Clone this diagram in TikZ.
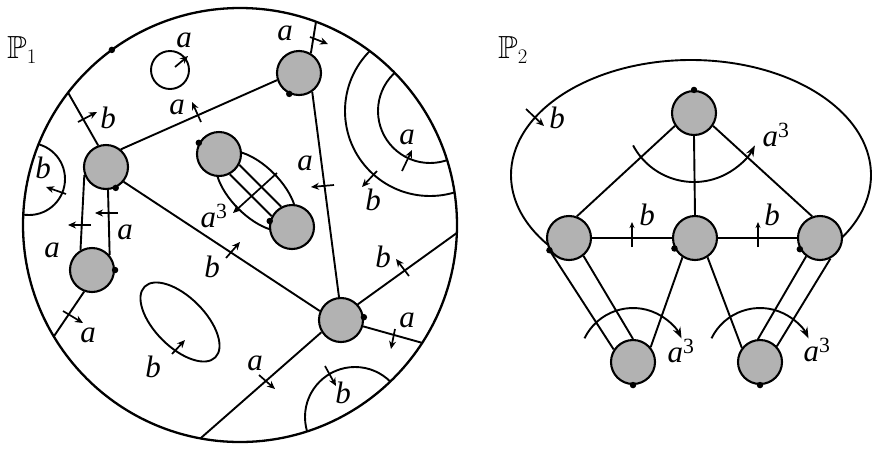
\documentclass[tikz,border=0pt]{standalone}
\usepackage{amssymb}
\usepackage{fontspec}
\setmainfont{Liberation Serif}
\usetikzlibrary{arrows.meta}
\pgfdeclarelayer{bg}
\pgfsetlayers{bg,main}
\begin{document}
\begin{tikzpicture}[x=1pt,y=1pt,yscale=-1,
  ln/.style={line width=1.9pt},
  vtx/.style={circle,draw,line width=2.1pt,fill=black!30,minimum size=44pt,inner sep=0pt},
  dotm/.style={circle,fill=black,inner sep=0pt,minimum size=6.5pt},
  tk/.style={line width=1.7pt,-{Stealth[length=8pt,width=7pt]}},
  tkup/.style={line width=1.2pt,-{Stealth[length=6pt,width=5pt]}},
  arr/.style={line width=1.9pt,-{Stealth[length=11pt,width=8pt]}},
  lab/.style={inner sep=0pt,font=\fontsize{31}{33}\selectfont\itshape},
  plab/.style={inner sep=0pt,font=\fontsize{32}{34}\selectfont},
]
\useasboundingbox (0,0) rectangle (878,448);

% ---------- left disk P1 ----------
\coordinate (O) at (240,225);
\draw[line width=2.3pt] (O) circle (217);
\coordinate (e1) at ([shift={(-69.5:217)}]O);
\coordinate (e2) at ([shift={(-142.4:217)}]O);
\coordinate (e3) at ([shift={(149.1:217)}]O);
\coordinate (e4) at ([shift={(100.5:217)}]O);
\coordinate (e5) at ([shift={(2.1:217)}]O);
\coordinate (e6) at ([shift={(32.9:217)}]O);
\node[dotm] (d0) at ([shift={(-126.2:217)}]O) {};

\node[vtx] (V1) at (299,73) {};
\node[vtx] (V2) at (106,167) {};
\node[vtx] (V3) at (92,270) {};
\node[vtx] (V4) at (219,154) {};
\node[vtx] (V5) at (292,227) {};
\node[vtx] (V6) at (341,320) {};

\node[dotm] (d1) at (V1.245) {};
\node[dotm] (d2) at (V2.295) {};
\node[dotm] (d3) at (V3.0) {};
\node[dotm] (d4) at (V4.151) {};
\node[dotm] (d5) at (V5.165) {};
\node[dotm] (d6) at (V6.7) {};

\begin{pgfonlayer}{bg}
  \draw[ln] (V1.59) -- (e1);
  \draw[ln] (V2.50) -- (V1.198);
  \draw[ln] (V2.110) -- (e2);
  \draw[ln] (V2.200) -- (V3.120);
  \draw[ln] (V2.275) -- (V3.40);
  \draw[ln] (V3.250) -- (e3);
  \draw[ln] (V1.305) -- (V6.95);
  \draw[ln] (V2.320) -- (V6.157);
  \draw[ln] (V6.212) -- (e4);
  \draw[ln] (V6.43) -- (e5);
  \draw[ln] (V6.344) -- (e6);
  \draw[ln] (V4.-28) -- (V5.118);
  \draw[ln] (V4.-62) -- (V5.152);
  \draw[ln,rotate around={45:(256,191)}] (256,191) ellipse [x radius=51, y radius=25];
  \begin{scope}
    \clip (O) circle (217);
    \draw[ln] (29,179) circle (36);
    \draw[ln] (430,111) circle (85);
    \draw[ln] (430,111) circle (52);
    \draw[ln] (355,417) circle (50);
  \end{scope}
\end{pgfonlayer}

\draw[ln] (170,70) circle (19);
\draw[ln,rotate around={45:(180,322)}] (180,322) ellipse [x radius=50, y radius=25];

% ticks
\draw[tk] (175,67) -- (188,56);
\draw[tk] (310,37) -- (328,44);
\draw[tk] (201,122) -- (192,102);
\draw[tk] (78,122) -- (97,112);
\draw[tk] (66,194) -- (46,187);
\draw[tk] (91,225) -- (68,225);
\draw[tk] (118,213) -- (95,213);
\draw[tk] (63,311) -- (83,323);
\draw[tk] (172,354) -- (185,340);
\draw[tk] (226,258) -- (240,242);
\draw[tk] (277,173) -- (233,213);
\draw[tk] (334,185) -- (311,187);
\draw[tk] (402,171) -- (412,150);
\draw[tk] (377,171) -- (362,187);
\draw[tk] (409,276) -- (396,259);
\draw[tk] (395,329) -- (391,349);
\draw[tk] (325,366) -- (336,386);
\draw[tk] (259,375) -- (275,389);

% labels
\node[plab] (P1) at (22,50) {$\mathbb{P}_1$};
\node[lab] (la1) at (184,40) {a};
\node[lab] (la2) at (285,33) {a};
\node[lab] (la3) at (177,107) {a};
\node[lab] (lb1) at (108,118) {b};
\node[lab] (lb2) at (43,168) {b};
\node[lab] (la4) at (52,250) {a};
\node[lab] (la5) at (125,232) {a};
\node[lab] (la6) at (88,335) {a};
\node[lab] (lb3) at (153,367) {b};
\node[lab] (la7) at (214,216) {a\textsuperscript{\upshape 3}};
\node[lab] (lb4) at (212,267) {b};
\node[lab] (la8) at (305,163) {a};
\node[lab] (la9) at (407,137) {a};
\node[lab] (lb5) at (373,200) {b};
\node[lab] (lb6) at (383,257) {b};
\node[lab] (la10) at (407,320) {a};
\node[lab] (lb7) at (343,393) {b};
\node[lab] (la11) at (255,363) {a};

% ---------- right figure P2 ----------
\node[vtx] (T) at (694,113) {};
\node[vtx] (W1) at (569,238) {};
\node[vtx] (W2) at (695,238) {};
\node[vtx] (W3) at (820,238) {};
\node[vtx] (B1) at (633,362) {};
\node[vtx] (B2) at (760,362) {};

\node[dotm] (dT) at (T.90) {};
\node[dotm] (dW1) at (W1.212) {};
\node[dotm] (dW2) at (W2.207) {};
\node[dotm] (dW3) at (W3.209) {};
\node[dotm] (dB1) at (B1.270) {};
\node[dotm] (dB2) at (B2.270) {};

\coordinate (Ec) at (691,175);
\begin{pgfonlayer}{bg}
  \draw[ln] ([shift={(143:180 and 115)}]Ec) arc[start angle=143,end angle=394,x radius=180,y radius=115];
  \draw[ln] (T.214) -- (W1.70);
  \draw[ln] (T.270) -- (W2.90);
  \draw[ln] (T.326) -- (W3.110);
  \draw[ln] (W1) -- (W2);
  \draw[ln] (W2) -- (W3);
  \draw[ln] (W1.216) -- (B1.147);
  \draw[ln] (W1.309) -- (B1.90);
  \draw[ln] (W2.237) -- (B1.40);
  \draw[ln] (W2.303) -- (B2.142);
  \draw[ln] (W3.233) -- (B2.95);
  \draw[ln] (W3.297) -- (B2.43);
\end{pgfonlayer}

\draw[arr] ([shift={(152:69)}]T.center) arc[start angle=152,end angle=28,radius=69];
\draw[arr] ([shift={(206:54)}]B1.center) arc[start angle=206,end angle=334,radius=54];
\draw[arr] ([shift={(206:54)}]B2.center) arc[start angle=206,end angle=334,radius=54];

\draw[tk] (526,109) -- (544,126);
\draw[tkup] (632,247) -- (632,222);
\draw[tkup] (758,247) -- (758,222);

\node[plab] (P2) at (513,50) {$\mathbb{P}_2$};
\node[lab] (rb1) at (557,118) {b};
\node[lab] (ra1) at (776,135) {a\textsuperscript{\upshape 3}};
\node[lab] (rb2) at (647,215) {b};
\node[lab] (rb3) at (772,215) {b};
\node[lab] (ra2) at (681,351) {a\textsuperscript{\upshape 3}};
\node[lab] (ra3) at (817,350) {a\textsuperscript{\upshape 3}};
\end{tikzpicture}
\end{document}
